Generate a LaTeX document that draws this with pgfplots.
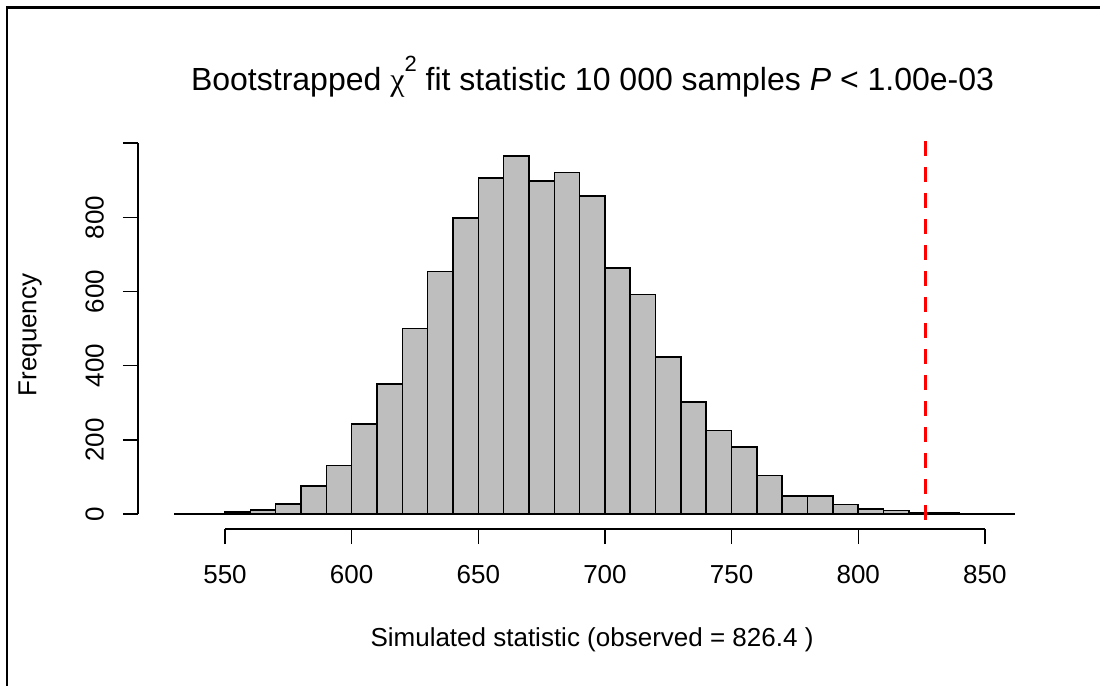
\documentclass[border=0pt]{standalone}
\usepackage{fontspec}
\setmainfont{Liberation Sans}
\newfontfamily\greekfont{Liberation Serif}
\usepackage{pgfplots}
\pgfplotsset{compat=1.18}
\usepackage{pgfplotstable}

\pgfplotstableread{
x y
550 5
560 10
570 27
580 76
590 131
600 243
610 351
620 500
630 654
640 798
650 906
660 966
670 898
680 921
690 858
700 664
710 592
720 423
730 302
740 225
750 180
760 104
770 49
780 49
790 26
800 13
810 9
820 4
830 2
840 0
}\histdata

\definecolor{rgray}{HTML}{BEBEBE}

\begin{document}
\begin{tikzpicture}
\useasboundingbox (0,0) rectangle (550bp,343bp);
\fill[white] (0,0) rectangle (550bp,343bp);
\draw[line width=1.2bp, black] (3.5bp,0) -- (3.5bp,339.25bp) -- (550bp,339.25bp);
\begin{axis}[
  at={(69bp,78.5bp)}, anchor=south west,
  scale only axis, width=436.5bp, height=194bp,
  xmin=515.65, xmax=860.3, ymin=-40.5, ymax=1006,
  axis x line=bottom, axis y line=left,
  axis line style={draw=none},
  clip=false,
  tick align=outside, major tick length=7.5bp,
  tick style={black, line width=0.75bp},
  xtick={550,600,...,850}, xticklabels={550,600,650,700,750,800,850},
  ytick={0,200,...,1000}, yticklabels={0,200,400,600,800,{}},
  tick label style={font=\fontsize{13bp}{15bp}\selectfont},
  yticklabel style={xshift=-6bp, rotate=90, anchor=south},
  xticklabel style={yshift=-7bp},
  ylabel={Frequency},
  ylabel style={at={(axis description cs:-0.1237,0.5)}, anchor=center, rotate=0, font=\fontsize{13bp}{15bp}\selectfont},
]
\addplot[ybar interval, fill=rgray, draw=black, line width=0.8bp] table[x=x, y=y] {\histdata};
\addplot[black, line width=0.8bp] coordinates {(530,0) (862,0)};
\addplot[red, line width=1.5bp, dash pattern=on 7.5bp off 5.5bp] coordinates {(826.4,1006) (826.4,-40.5)};
\draw[line width=0.75bp] (axis cs:550,-40.5) -- (axis cs:850,-40.5);
\draw[line width=0.75bp] (axis cs:515.65,0) -- (axis cs:515.65,1000);
\end{axis}
\node[anchor=base, font=\fontsize{16bp}{19bp}\selectfont, inner sep=0pt] at (296.25bp,297.5bp)
  {Bootstrapped {\greekfont χ}\raisebox{9.7bp}{\fontsize{11bp}{13bp}\selectfont 2} fit statistic 10 000 samples \textit{P} < 1.00e-03};
\node[anchor=base, font=\fontsize{13bp}{15bp}\selectfont, inner sep=0pt] at (296bp,19.65bp)
  {Simulated statistic (observed = 826.4 )};
\end{tikzpicture}
\end{document}
